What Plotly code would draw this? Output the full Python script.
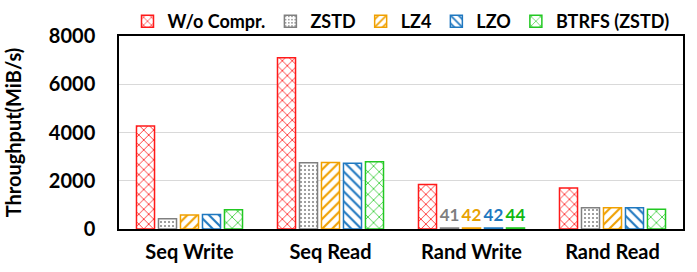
import plotly.graph_objects as go

categories = ["Seq Write", "Seq Read", "Rand Write", "Rand Read"]
series_names = ["W/o Compr.", "ZSTD", "LZ4", "LZO", "BTRFS (ZSTD)"]
wo_compr = [4270, 7100, 1840, 1700]
zstd = [430, 2750, 41, 880]
lz4 = [580, 2760, 42, 880]
lzo = [600, 2730, 42, 880]
btrfs = [800, 2790, 44, 820]
rand_write_labels = ["", "41", "42", "42", "44"]

colors = ["#FF1A1A", "#808080", "#F0A000", "#1F78C0", "#22C822"]
text_colors = ["#FF1A1A", "#7F7F7F", "#E8A202", "#1F78C0", "#11B811"]
shapes = ["x", ".", "/", "\\", "x"]
sizes = [7, 4, 7, 7, 8]
solid = [0.22, 0.2, 0.3, 0.3, 0.18]
values = [wo_compr, zstd, lz4, lzo, btrfs]

FONT = "Lato"

fig = go.Figure()
for i, (name, vals) in enumerate(zip(series_names, values)):
    txt = ["", "", rand_write_labels[i], ""]
    fig.add_trace(go.Bar(
        name=name, x=categories, y=vals,
        text=txt, textposition="outside", constraintext="none", cliponaxis=False,
        textfont=dict(family=FONT, size=17, color=text_colors[i], weight="bold"),
        marker=dict(color="white",
                    line=dict(color=colors[i], width=1.5),
                    pattern=dict(shape=shapes[i], fgcolor=colors[i], bgcolor="white",
                                 size=sizes[i], solidity=solid[i],
                                 fillmode="replace")),
    ))

fig.update_layout(
    width=697, height=272,
    margin=dict(l=119, r=14, t=36, b=43, autoexpand=False),
    paper_bgcolor="white", plot_bgcolor="white",
    barmode="group", bargap=0.22, bargroupgap=0.18,
    font=dict(family=FONT, size=20, color="black", weight="bold"),
    legend=dict(orientation="h", x=0.5, xanchor="center", y=1.075, yanchor="middle",
                font=dict(family=FONT, size=18, weight="bold"),
                itemwidth=30, bgcolor="rgba(0,0,0,0)"),
    xaxis=dict(showline=True, linecolor="black", linewidth=1.5, mirror=True,
               tickfont=dict(family=FONT, size=20, weight="bold"), ticks="",
               ticklabelstandoff=4),
    yaxis=dict(range=[0, 8000], tickvals=[0, 2000, 4000, 6000, 8000],
               showline=True, linecolor="black", linewidth=1.5, mirror=True,
               showgrid=True, gridcolor="#D9D9D9", gridwidth=1,
               tickfont=dict(family=FONT, size=20, weight="bold"),
               ticklabelstandoff=18,
               title=dict(text="Throughput(MiB/s)", font=dict(family=FONT, size=20, weight="bold"),
                          standoff=22),
               ticks="", zeroline=False),
)

fig.write_html("out.html", config={"displayModeBar": False},
               post_script="document.body.style.margin='0';")
